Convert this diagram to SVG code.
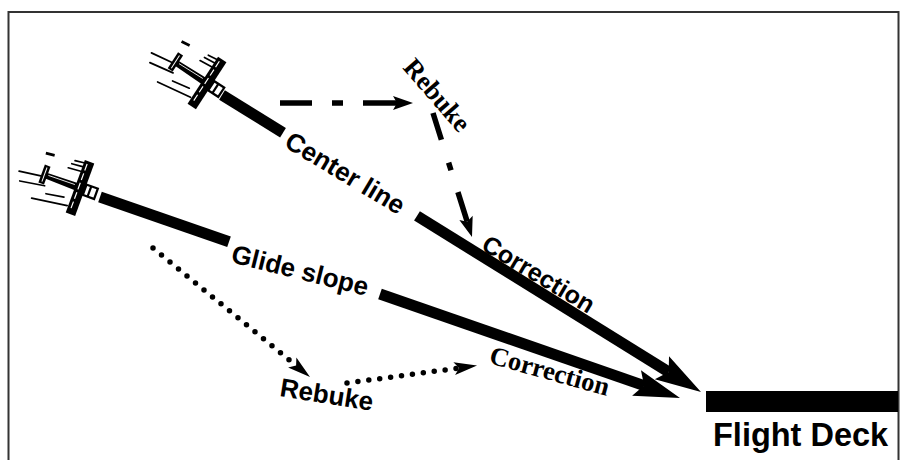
<svg xmlns="http://www.w3.org/2000/svg" width="902" height="460" viewBox="0 0 902 460">
  <defs>
    <style>
      .sans{font-family:"Liberation Sans",Arial,sans-serif;font-weight:bold;font-size:26px;fill:#000}
      .serif{font-family:"Liberation Serif","Times New Roman",serif;font-weight:bold;font-size:26.5px;fill:#000}
      .thick{stroke:#000;stroke-width:11;fill:none}
      .dashdot{stroke:#000;stroke-width:5.5;fill:none}
      .dotted{stroke:#000;stroke-width:5.5;stroke-linecap:round;stroke-dasharray:0 11;fill:none}
      .streak{stroke:#000;stroke-width:1.7;stroke-linecap:round;fill:none}
    </style>
    <!-- heavy arrowhead; the line ends at the notch -->
    <marker id="bigHead" viewBox="-10 -15 50 30" refX="0" refY="0" markerWidth="50" markerHeight="30" markerUnits="userSpaceOnUse" orient="auto">
      <path d="M38,0 L-8,-13.5 L0,0 L-8,13.5 Z" fill="#000"/>
    </marker>
    <marker id="smallHead" viewBox="-6 -8 24 16" refX="0" refY="0" markerWidth="24" markerHeight="16" markerUnits="userSpaceOnUse" orient="auto">
      <path d="M16,0 L-4,-7 L0,0 L-4,7 Z" fill="#000"/>
    </marker>
    <marker id="dotHead" viewBox="-7 -8 27 16" refX="0" refY="0" markerWidth="27" markerHeight="16" markerUnits="userSpaceOnUse" orient="auto">
      <path d="M18,0 L-5,-6.5 L0,0 L-5,6.5 Z" fill="#000"/>
    </marker>
    <!-- jet seen from astern, nose toward +x, wing centred on the origin -->
    <g id="jet">
      <line class="streak" x1="-63" y1="5" x2="-41" y2="2"/>
      <line class="streak" x1="-59" y1="14" x2="-34" y2="10"/>
      <line class="streak" x1="-42" y1="26" x2="-6" y2="21"/>
      <line class="streak" x1="-30" y1="17" x2="-12" y2="14"/>
      <line x1="-44" y1="-21" x2="-35" y2="-22" stroke="#000" stroke-width="2.8"/>
      <path d="M-38,-3 L0,-4 L0,4 L-38,3 Z" fill="#000"/>
      <line x1="-34" y1="-1" x2="-6" y2="-1.5" stroke="#fff" stroke-width="0.8"/>
      <rect x="-41" y="-10" width="6" height="19" fill="#000"/>
      <line x1="-38" y1="-8" x2="-38" y2="7" stroke="#fff" stroke-width="1"/>
      <line class="streak" x1="-18" y1="-15" x2="-5" y2="-16"/>
      <line class="streak" x1="-16" y1="-20" x2="-5" y2="-21"/>
      <line class="streak" x1="-14" y1="-24" x2="-5" y2="-25"/>
      <rect x="-5" y="-28" width="10" height="56" fill="#000"/>
      <line x1="-1.5" y1="-25" x2="-1.5" y2="25" stroke="#fff" stroke-width="1.2" stroke-dasharray="7 3"/>
      <rect x="5" y="-5.5" width="12" height="11" fill="#fff" stroke="#000" stroke-width="2.2"/>
      <line x1="10" y1="-5.5" x2="10" y2="5.5" stroke="#000" stroke-width="2.2"/>
    </g>
  </defs>

  <rect x="0" y="0" width="902" height="460" fill="#fff"/>
  <!-- frame, open at the bottom -->
  <rect x="8.5" y="12" width="890" height="470" fill="none" stroke="#333" stroke-width="2"/>

  <g id="connectors">
    <!-- centre line approach -->
    <line class="thick" x1="222" y1="95" x2="283" y2="132.8"/>
    <line class="thick" x1="417" y1="215.9" x2="668.7" y2="372" marker-end="url(#bigHead)"/>
    <!-- glide slope approach -->
    <line class="thick" x1="100" y1="197" x2="229" y2="241.7"/>
    <line class="thick" x1="380" y1="294" x2="644.1" y2="385.6" marker-end="url(#bigHead)"/>
    <!-- line-up rebuke and correction -->
    <path class="dashdot" d="M280,103 L397,103" stroke-dasharray="32 20 11 20 100" marker-end="url(#smallHead)"/>
    <path class="dashdot" d="M433,113 L467.2,221.7" stroke-dasharray="28 24 8 23 100" marker-end="url(#smallHead)"/>
    <!-- glide slope rebuke and correction -->
    <path class="dotted" d="M153,248 L296.1,365.6" marker-end="url(#dotHead)"/>
    <path class="dotted" d="M347,383 L459.2,368" marker-end="url(#dotHead)"/>
  </g>

  <g id="jet-centerline"><use href="#jet" transform="translate(207,83) rotate(33)"/></g>
  <g id="jet-glideslope"><use href="#jet" transform="translate(80,188) rotate(20)"/></g>

  <g id="flight-deck">
    <rect x="706" y="391" width="192" height="21" fill="#000"/>
    <text class="sans" x="713" y="446" style="font-size:32.5px">Flight Deck</text>
  </g>

  <g id="label-centerline"><text class="sans" transform="translate(283,146) rotate(31)">Center line</text></g>
  <g id="label-glideslope"><text class="sans" transform="translate(230,262) rotate(14)">Glide slope</text></g>
  <g id="label-rebuke-line"><text class="serif" transform="translate(402,68) rotate(49)">Rebuke</text></g>
  <g id="label-correction-line"><text class="sans" transform="translate(480,249) rotate(31)" style="font-size:25px">Correction</text></g>
  <g id="label-rebuke-slope"><text class="sans" transform="translate(279,396) rotate(9)">Rebuke</text></g>
  <g id="label-correction-slope"><text class="serif" transform="translate(488,363) rotate(15.5)">Correction</text></g>
</svg>
